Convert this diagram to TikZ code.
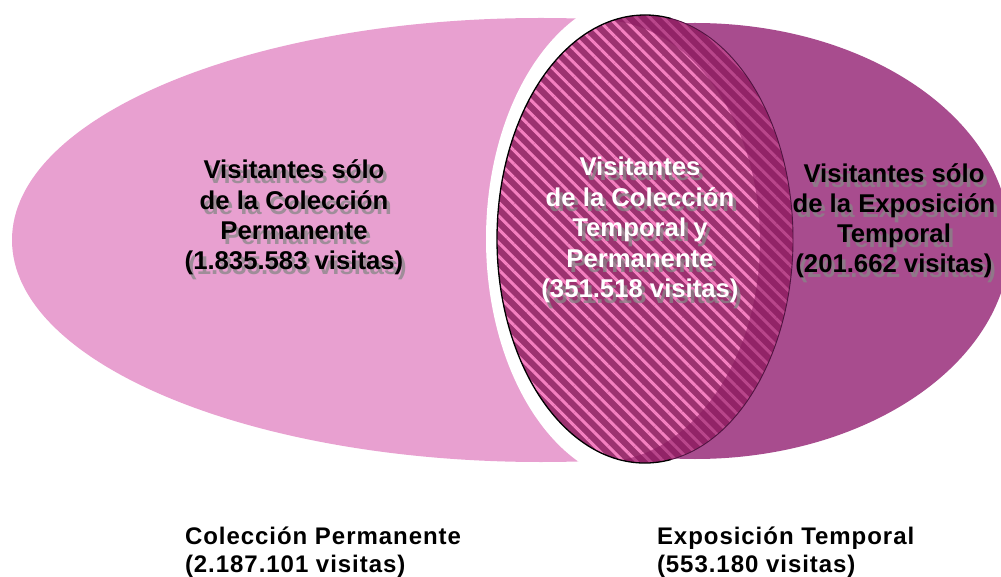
\documentclass[tikz,border=0pt]{standalone}
\usepackage{fontspec}
\setmainfont{Liberation Sans}
\usetikzlibrary{patterns.meta}
\definecolor{pinkc}{RGB}{232,160,208}
\definecolor{purplec}{RGB}{168,76,142}
\definecolor{midbase}{RGB}{156,50,112}
\definecolor{stripec}{RGB}{244,128,192}
\definecolor{bandc}{RGB}{138,24,96}
\definecolor{shadowc}{RGB}{135,135,135}
\definecolor{rimc}{RGB}{80,20,65}
\newcommand\innerfnt{\fontsize{25.7}{30}\selectfont\bfseries}
\newcommand\capfnt{\fontsize{24}{28}\selectfont\bfseries\addfontfeature{LetterSpace=4}}
\begin{document}
\begin{tikzpicture}[x=1pt,y=-1pt,
  txt/.style={font=\innerfnt, anchor=base, inner sep=0pt, outer sep=0pt},
  shd/.style={txt, text=shadowc, opacity=.75},
  wtxt/.style={txt, text=white},
  captxt/.style={font=\capfnt, anchor=base west, inner sep=0pt, outer sep=0pt}]
\useasboundingbox (0,0) rectangle (1001,577);
\fill[white] (0,0) rectangle (1001,577);
% left ellipse (Coleccion Permanente)
\begin{scope}
  \clip (0,0) rectangle (645,577);
  \fill[pinkc] (541,240) ellipse [x radius=529, y radius=222];
\end{scope}
% white gap
\fill[white] (645,239) ellipse [x radius=159, y radius=245];
% right ellipse (Exposicion Temporal)
\begin{scope}
  \clip (645,0) rectangle (1001,577);
  \fill[purplec] (695,241) ellipse [x radius=315, y radius=218];
\end{scope}
% intersection
\fill[midbase] (645,239) ellipse [x radius=148, y radius=224];
\fill[pattern={Lines[angle=-45,distance=9.5pt,line width=3pt]}, pattern color=stripec]
  (645,239) ellipse [x radius=148, y radius=224];
\begin{scope}
  \clip (645,239) ellipse [x radius=148, y radius=224];
  \fill[bandc, opacity=.55, even odd rule] (400,0) rectangle (900,577)
    (600,241) ellipse [x radius=160, y radius=221];
\end{scope}
\draw[rimc, line width=.9pt] (670.7,459.6) arc[start angle=80, end angle=-80, x radius=148, y radius=224];
\draw[black, line width=1.3pt] (670.7,459.6) arc[start angle=80, end angle=280, x radius=148, y radius=224];
% left texts
\node[shd] (l1s) at (297.5,184) {Visitantes sólo};
\node[shd] (l2s) at (297.5,214.5) {de la Colección};
\node[shd] (l3s) at (297.5,245) {Permanente};
\node[shd] (l4s) at (297.5,275) {(1.835.583 visitas)};
\node[txt] (l1) at (294,179) {Visitantes sólo};
\node[txt] (l2) at (294,209.5) {de la Colección};
\node[txt] (l3) at (294,240) {Permanente};
\node[txt] (l4) at (294,270) {(1.835.583 visitas)};
% middle texts
\node[shd] (m1s) at (643.5,181) {Visitantes};
\node[shd] (m2s) at (643.5,211.5) {de la Colección};
\node[shd] (m3s) at (643.5,242) {Temporal y};
\node[shd] (m4s) at (643.5,272.5) {Permanente};
\node[shd] (m5s) at (643.5,303) {(351.518 visitas)};
\node[wtxt] (m1) at (640,176) {Visitantes};
\node[wtxt] (m2) at (640,206.5) {de la Colección};
\node[wtxt] (m3) at (640,237) {Temporal y};
\node[wtxt] (m4) at (640,267.5) {Permanente};
\node[wtxt] (m5) at (640,298) {(351.518 visitas)};
% right texts
\node[shd] (r1s) at (897.5,188) {Visitantes sólo};
\node[shd] (r2s) at (897.5,218) {de la Exposición};
\node[shd] (r3s) at (897.5,248) {Temporal};
\node[shd] (r4s) at (897.5,278) {(201.662 visitas)};
\node[txt] (r1) at (894,183) {Visitantes sólo};
\node[txt] (r2) at (894,213) {de la Exposición};
\node[txt] (r3) at (894,243) {Temporal};
\node[txt] (r4) at (894,273) {(201.662 visitas)};
% bottom captions
\node[captxt] (c1) at (185,544) {Colección Permanente};
\node[captxt] (c2) at (185,572) {(2.187.101 visitas)};
\node[captxt] (e1) at (657,544) {Exposición Temporal};
\node[captxt] (e2) at (657,572) {(553.180 visitas)};
\end{tikzpicture}
\end{document}
